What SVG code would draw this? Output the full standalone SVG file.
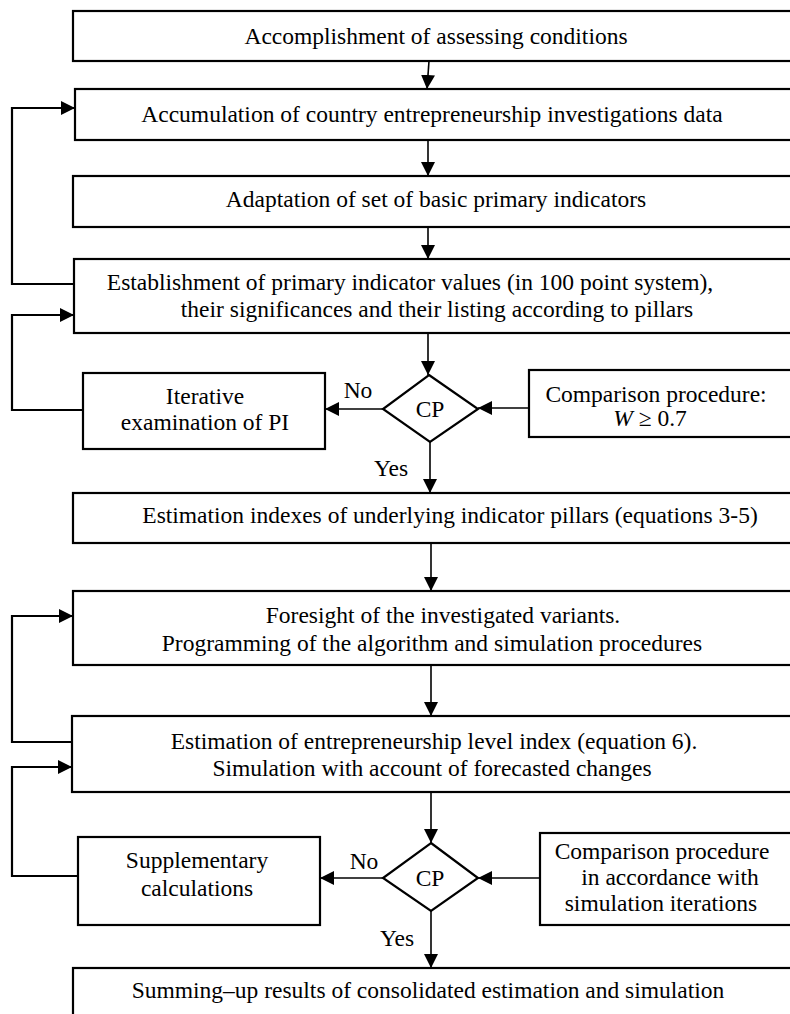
<svg xmlns="http://www.w3.org/2000/svg" width="790" height="1014" viewBox="0 0 790 1014">
<style>
  .box { fill: #fff; stroke: #000; stroke-width: 2.2; }
  .dia { fill: #fff; stroke: #000; stroke-width: 2.2; }
  .t { font-family: "Liberation Serif", "Times New Roman", serif; font-size: 23.5px; fill: #000; text-anchor: middle; }
  .c { fill: none; stroke: #000; stroke-width: 1.6; }
  .loop { fill: none; stroke: #000; stroke-width: 2.2; }
</style>
<defs>
  <marker id="ah" markerUnits="userSpaceOnUse" markerWidth="14" markerHeight="14" refX="14" refY="7" orient="auto">
    <path d="M0,0 L14,7 L0,14 z" fill="#000"/>
  </marker>
</defs>
<rect width="790" height="1014" fill="#fff"/>

<g id="n1"><rect class="box" x="73" y="11" width="740" height="50"/><text class="t" x="436" y="44">Accomplishment of assessing conditions</text></g>
<g id="n2"><rect class="box" x="75" y="89" width="740" height="51"/><text class="t" x="432" y="122">Accumulation of country entrepreneurship investigations data</text></g>
<g id="n3"><rect class="box" x="73" y="176" width="740" height="51"/><text class="t" x="436" y="207">Adaptation of set of basic primary indicators</text></g>
<g id="n4"><rect class="box" x="74" y="259" width="740" height="74"/><text class="t" x="410" y="290">Establishment of primary indicator values (in 100 point system),</text><text class="t" x="437" y="317">their significances and their listing according to pillars</text></g>
<g id="n5"><rect class="box" x="83" y="373" width="242" height="76"/><text class="t" x="205" y="404">Iterative</text><text class="t" x="205" y="430">examination of PI</text></g>
<g id="d1"><polygon class="dia" points="429,375 478,409 430,442 383,409"/><text class="t" x="430" y="417">CP</text></g>
<g id="n6"><rect class="box" x="529" y="370" width="280" height="67"/><text class="t" x="656" y="402">Comparison procedure:</text><text class="t" x="650" y="426"><tspan font-style="italic">W</tspan> ≥ 0.7</text></g>
<g id="n7"><rect class="box" x="73" y="493" width="740" height="50"/><text class="t" x="450" y="523">Estimation indexes of underlying indicator pillars (equations 3-5)</text></g>
<g id="n8"><rect class="box" x="73" y="591" width="740" height="74"/><text class="t" x="443" y="623">Foresight of the investigated variants.</text><text class="t" x="432" y="651">Programming of the algorithm and simulation procedures</text></g>
<g id="n9"><rect class="box" x="72" y="716" width="740" height="76"/><text class="t" x="434" y="749">Estimation of entrepreneurship level index (equation 6).</text><text class="t" x="432" y="776">Simulation with account of forecasted changes</text></g>
<g id="n10"><rect class="box" x="78" y="837" width="242" height="88"/><text class="t" x="197" y="868">Supplementary</text><text class="t" x="197" y="896">calculations</text></g>
<g id="d2"><polygon class="dia" points="431,843 478,878 431,911 383,878"/><text class="t" x="430" y="886">CP</text></g>
<g id="n11"><rect class="box" x="540" y="833" width="270" height="92"/><text class="t" x="662" y="859">Comparison procedure</text><text class="t" x="670" y="885">in accordance with</text><text class="t" x="661" y="911">simulation iterations</text></g>
<g id="n12"><rect class="box" x="73" y="968" width="740" height="80"/><text class="t" x="428" y="998">Summing–up results of consolidated estimation and simulation</text></g>

<g id="connectors">
  <path class="c" d="M429,61 L427,89" marker-end="url(#ah)"/>
  <path class="c" d="M428,140 L428,176" marker-end="url(#ah)"/>
  <path class="c" d="M428,227 L428,259" marker-end="url(#ah)"/>
  <path class="c" d="M428,333 L428,375" marker-end="url(#ah)"/>
  <path class="c" d="M383,409 L325,409" marker-end="url(#ah)"/>
  <path class="c" d="M529,408 L478,408" marker-end="url(#ah)"/>
  <path class="c" d="M430,442 L430,493" marker-end="url(#ah)"/>
  <path class="c" d="M431,543 L431,591" marker-end="url(#ah)"/>
  <path class="c" d="M431,665 L431,716" marker-end="url(#ah)"/>
  <path class="c" d="M431,792 L431,843" marker-end="url(#ah)"/>
  <path class="c" d="M383,878 L320,878" marker-end="url(#ah)"/>
  <path class="c" d="M540,878 L478,878" marker-end="url(#ah)"/>
  <path class="c" d="M431,911 L431,968" marker-end="url(#ah)"/>
  <path class="loop" d="M74,284 L12,284 L12,108 L75,108" marker-end="url(#ah)"/>
  <path class="loop" d="M83,410 L12,410 L12,315 L74,315" marker-end="url(#ah)"/>
  <path class="loop" d="M72,742 L12,742 L12,616 L73,616" marker-end="url(#ah)"/>
  <path class="loop" d="M78,876 L12,876 L12,767 L72,767" marker-end="url(#ah)"/>
  <text class="t" x="358" y="398">No</text>
  <text class="t" x="391" y="476">Yes</text>
  <text class="t" x="364" y="869">No</text>
  <text class="t" x="397" y="946">Yes</text>
</g>
</svg>
